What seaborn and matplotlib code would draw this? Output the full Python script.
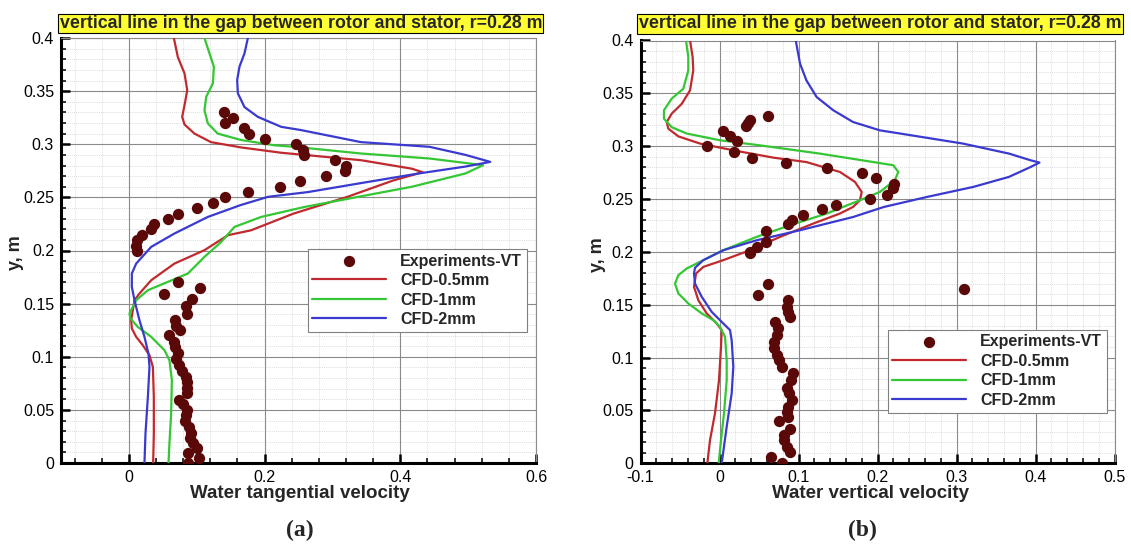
import numpy as np
import pandas as pd
import matplotlib
matplotlib.use("Agg")
import matplotlib.pyplot as plt
from matplotlib.ticker import MultipleLocator
import seaborn as sns

# ---------------- data: panel (a) tangential velocity ----------------
exp_a_x = [0.140, 0.154, 0.1415, 0.169, 0.177, 0.200, 0.2466, 0.257, 0.258, 0.3045, 0.320, 0.318,
           0.290, 0.2515, 0.223, 0.176, 0.1415, 0.124, 0.101, 0.0717, 0.0574, 0.0368, 0.0319, 0.0191,
           0.0122, 0.0098, 0.0118,
           0.0717, 0.0525, 0.1046, 0.0928, 0.0835, 0.0855, 0.0687, 0.0692, 0.075, 0.0594, 0.0658,
           0.0682, 0.0717, 0.0692, 0.0737, 0.0786, 0.0835, 0.085, 0.0855, 0.0855, 0.0746, 0.0796,
           0.0855, 0.0835, 0.083, 0.0884, 0.0923, 0.0908, 0.0948, 0.1007, 0.0874, 0.1036, 0.0878]
exp_a_y = [0.330, 0.3246, 0.320, 0.315, 0.310, 0.305, 0.3007, 0.2945, 0.290, 0.285, 0.2797, 0.2747,
           0.270, 0.2655, 0.2596, 0.2546, 0.250, 0.2445, 0.240, 0.2348, 0.2295, 0.2248, 0.2203, 0.2147,
           0.210, 0.2047, 0.1996,
           0.170, 0.1595, 0.1648, 0.1548, 0.1476, 0.140, 0.135, 0.129, 0.125, 0.1202, 0.114,
           0.109, 0.1036, 0.0983, 0.092, 0.0866, 0.081, 0.076, 0.071, 0.0659, 0.0597, 0.0553,
           0.0496, 0.0449, 0.0396, 0.0339, 0.0286, 0.0239, 0.0192, 0.0141, 0.0098, 0.0051, 0.0]

red_a_x = [0.0663, 0.0722, 0.082, 0.086, 0.083, 0.0786, 0.082, 0.0967, 0.121, 0.1655, 0.2245, 0.342,
           0.417, 0.433, 0.39, 0.322, 0.243, 0.180, 0.146, 0.1114, 0.0672, 0.0329, 0.0156, 0.0083,
           0.0034, 0.0044, 0.0108, 0.0206, 0.0304, 0.0354, 0.0368, 0.0368, 0.0358]
red_a_y = [0.400, 0.382, 0.3667, 0.351, 0.340, 0.3258, 0.3186, 0.310, 0.302, 0.297, 0.292, 0.285,
           0.277, 0.2737, 0.266, 0.2505, 0.2348, 0.219, 0.2144, 0.2003, 0.1877, 0.172, 0.1595, 0.1532,
           0.1344, 0.1266, 0.1187, 0.1108, 0.1014, 0.0904, 0.0621, 0.0277, 0.0]

green_a_x = [0.1114, 0.1188, 0.1253, 0.1238, 0.114, 0.1114, 0.1164, 0.131, 0.1655, 0.2146, 0.244, 0.342,
             0.443, 0.522, 0.496, 0.417, 0.338, 0.259, 0.195, 0.1556, 0.136, 0.1114, 0.087, 0.0575,
             0.028, 0.0108, 0.0009, 0.0024, 0.0133, 0.033, 0.0525, 0.0598, 0.0634, 0.0623, 0.0598, 0.0584]
green_a_y = [0.400, 0.3855, 0.373, 0.3573, 0.3446, 0.332, 0.3196, 0.310, 0.304, 0.299, 0.2976, 0.2913,
             0.2866, 0.2803, 0.2725, 0.260, 0.2505, 0.241, 0.2316, 0.2222, 0.208, 0.194, 0.1783, 0.1705,
             0.1626, 0.1532, 0.1407, 0.136, 0.128, 0.1187, 0.1061, 0.0967, 0.0779, 0.0465, 0.0183, 0.0]

blue_a_x = [0.1754, 0.1704, 0.163, 0.1596, 0.1606, 0.1704, 0.190, 0.2245, 0.254, 0.342, 0.443, 0.496,
            0.5326, 0.496, 0.427, 0.338, 0.264, 0.205, 0.1645, 0.1164, 0.0672, 0.0329, 0.0108, 0.0044,
            0.0044, 0.0083, 0.0156, 0.023, 0.0289, 0.0304, 0.028, 0.0245, 0.023]
blue_a_y = [0.400, 0.3855, 0.373, 0.3604, 0.348, 0.335, 0.3258, 0.3164, 0.3133, 0.302, 0.2976, 0.290,
            0.2834, 0.279, 0.2725, 0.263, 0.255, 0.2505, 0.2427, 0.2316, 0.216, 0.2034, 0.1877, 0.1783,
            0.1657, 0.1532, 0.1344, 0.1187, 0.103, 0.0904, 0.0621, 0.0277, 0.0]

# ---------------- data: panel (b) vertical velocity ----------------
exp_b_x = [0.061, 0.0386, 0.0365, 0.0335, 0.004, 0.0133, 0.0218, -0.0162, 0.0187, 0.0408, 0.0838,
           0.1357, 0.180, 0.198, 0.2213, 0.2192, 0.2116, 0.1905, 0.147, 0.1294, 0.106, 0.0914, 0.0871,
           0.0589, 0.0589, 0.047, 0.0386, 0.0386, 0.049, 0.061, 0.310,
           0.0863, 0.085, 0.0871, 0.0892, 0.0703, 0.0745, 0.0724, 0.069, 0.0694, 0.0724, 0.0753,
           0.0787, 0.0935, 0.0901, 0.085, 0.0884, 0.0914, 0.0871, 0.085, 0.0871, 0.0757, 0.0892,
           0.0816, 0.082, 0.085, 0.0892, 0.0648, 0.0787]
exp_b_y = [0.329, 0.3245, 0.322, 0.319, 0.3144, 0.3097, 0.305, 0.300, 0.2945, 0.289, 0.2845,
           0.2794, 0.275, 0.2697, 0.264, 0.260, 0.2543, 0.2498, 0.2448, 0.2404, 0.2347, 0.230, 0.226,
           0.2198, 0.2094, 0.2047, 0.199, 0.200, 0.159, 0.170, 0.165,
           0.1543, 0.148, 0.1433, 0.1386, 0.1338, 0.1276, 0.1213, 0.115, 0.1087, 0.1024, 0.0976,
           0.0913, 0.085, 0.0787, 0.0709, 0.0662, 0.0598, 0.0535, 0.0488, 0.044, 0.0403, 0.0321,
           0.0267, 0.022, 0.0157, 0.011, 0.0057, 0.0]

red_b_x = [-0.0373, -0.034, -0.0332, -0.0373, -0.0479, -0.0605, -0.0668, -0.0648, -0.0521, -0.0247,
           0.0175, 0.068, 0.110, 0.1525, 0.1715, 0.180, 0.1778, 0.169, 0.1525, 0.1187, 0.0766, 0.0386,
           0.0048, -0.0205, -0.0297, -0.0323, -0.0268, -0.0162, -0.0035, 0.0028, 0.0019, -0.0006,
           -0.0057, -0.012, -0.0154]
red_b_y = [0.400, 0.3843, 0.3717, 0.3528, 0.340, 0.3308, 0.3229, 0.3166, 0.3093, 0.3025,
           0.2961, 0.2892, 0.285, 0.2756, 0.2662, 0.2567, 0.2489, 0.2425, 0.2363, 0.2268, 0.2142, 0.2016,
           0.1922, 0.1858, 0.1796, 0.167, 0.1543, 0.1418, 0.1323, 0.126, 0.1102, 0.0787,
           0.0473, 0.022, 0.0]

green_b_x = [-0.0424, -0.0395, -0.0395, -0.0458, -0.0605, -0.0703, -0.0703, -0.0605, -0.0415, 0.0006,
             0.0513, 0.127, 0.1947, 0.22, 0.2263, 0.222, 0.203, 0.1778, 0.1357, 0.0892, 0.047, 0.0048,
             -0.0289, -0.0415, -0.0521, -0.0563, -0.0521, -0.0395, -0.0225, -0.0078, 0.0006, 0.007,
             0.0091, 0.0091, 0.0057, 0.0015, -0.001]
green_b_y = [0.400, 0.3843, 0.3717, 0.3544, 0.345, 0.334, 0.326, 0.318, 0.312, 0.3056,
             0.3008, 0.293, 0.285, 0.282, 0.2756, 0.2678, 0.2567, 0.2489, 0.2363, 0.2252, 0.2142, 0.2016,
             0.189, 0.1843, 0.178, 0.170, 0.1607, 0.1512, 0.1418, 0.1354, 0.1291, 0.1197,
             0.0976, 0.0787, 0.0473, 0.0189, 0.0]

blue_b_x = [0.0965, 0.102, 0.110, 0.123, 0.144, 0.169, 0.203, 0.2285, 0.308, 0.3665, 0.3937, 0.405,
            0.3937, 0.3665, 0.3214, 0.2627, 0.208, 0.169, 0.1019, 0.047, 0.0048, -0.0205, -0.031,
            -0.0323, -0.031, -0.0225, -0.0099, 0.0006, 0.0133, 0.0154, 0.0175, 0.0154, 0.0091, 0.0028]
blue_b_y = [0.400, 0.378, 0.3623, 0.3465, 0.334, 0.3229, 0.315, 0.312, 0.3025, 0.293, 0.2867, 0.2845,
            0.2803, 0.271, 0.2615, 0.252, 0.2425, 0.233, 0.2205, 0.211, 0.2016, 0.1922, 0.1850,
            0.1796, 0.170, 0.1575, 0.1433, 0.1354, 0.126, 0.1165, 0.0913, 0.0662, 0.0346, 0.0]

labels = ["Experiments-VT", "CFD-0.5mm", "CFD-1mm", "CFD-2mm"]
title_text = "vertical line in the gap between rotor and stator, r=0.28 m"

# ---------------- styling ----------------
sns.set_style("white")
plt.rcParams["font.family"] = ["Liberation Sans", "DejaVu Sans"]

C_EXP = "#5a0808"
C_RED = "#c02a2e"
C_GRN = "#34c634"
C_BLU = "#3a3ad0"

fig = plt.figure(figsize=(11.31, 5.51), dpi=100)
ax1 = fig.add_axes([61 / 1131, 1 - 463 / 551, 475 / 1131, 425 / 551])
ax2 = fig.add_axes([640.5 / 1131, 1 - 463.3 / 551, 474 / 1131, 422.8 / 551])


def draw(ax, ex, ey, curves):
    for (cx, cy, col, lab) in curves:
        sns.lineplot(x=cx, y=cy, sort=False, estimator=None, color=col, linewidth=1.6,
                     ax=ax, label=lab, zorder=3)
    sns.scatterplot(x=ex, y=ey, color=C_EXP, s=66, linewidth=0, ax=ax,
                    label=labels[0], zorder=4)


def style(ax, xlim, xmaj, xmin, legend_anchor):
    ax.set_xlim(*xlim)
    ax.set_ylim(0, 0.4)
    ax.xaxis.set_major_locator(MultipleLocator(xmaj))
    ax.xaxis.set_minor_locator(MultipleLocator(xmin))
    ax.yaxis.set_major_locator(MultipleLocator(0.05))
    ax.yaxis.set_minor_locator(MultipleLocator(0.01))
    ax.grid(True, which="major", color="#8a8a8a", linewidth=0.8, zorder=0)
    ax.grid(True, which="minor", color="#d2d2d2", linewidth=0.5, linestyle=(0, (1.5, 1.5)), zorder=0)
    ax.set_axisbelow(True)
    for s in ["left", "bottom"]:
        ax.spines[s].set_color("black")
        ax.spines[s].set_linewidth(2.2)
    for s in ["top", "right"]:
        ax.spines[s].set_color("#8a8a8a")
        ax.spines[s].set_linewidth(0.8)
    ax.tick_params(which="both", direction="in", left=True, bottom=True, top=False, right=False,
                   colors="black", labelsize=11.5)
    ax.tick_params(which="major", length=6.5, width=1.8, pad=5)
    ax.tick_params(which="minor", length=3.6, width=1.1)
    ax.set_xlabel("")
    ax.set_ylabel("")
    h, l = ax.get_legend_handles_labels()
    d = dict(zip(l, h))
    leg = ax.legend([d[k] for k in labels], labels, loc="upper right", bbox_to_anchor=legend_anchor,
                    frameon=True, fancybox=False, framealpha=1, edgecolor="#808080",
                    prop={"weight": "bold", "size": 11.5}, handlelength=4.6, handletextpad=0.9,
                    labelspacing=0.28, borderpad=0.3, scatterpoints=1, borderaxespad=0)
    leg.get_frame().set_linewidth(0.8)
    leg.set_zorder(10)


draw(ax1, exp_a_x, exp_a_y, [(red_a_x, red_a_y, C_RED, labels[1]),
                             (green_a_x, green_a_y, C_GRN, labels[2]),
                             (blue_a_x, blue_a_y, C_BLU, labels[3])])
draw(ax2, exp_b_x, exp_b_y, [(red_b_x, red_b_y, C_RED, labels[1]),
                             (green_b_x, green_b_y, C_GRN, labels[2]),
                             (blue_b_x, blue_b_y, C_BLU, labels[3])])

style(ax1, (-0.1, 0.6), 0.2, 0.04, (0.981, 0.504))
style(ax2, (-0.1, 0.5), 0.1, 0.02, (0.984, 0.3164))

for ax in (ax1, ax2):
    ax.yaxis.set_major_formatter(plt.FuncFormatter(lambda v, p: ("%g" % round(v, 3))))
    ax.xaxis.set_major_formatter(plt.FuncFormatter(lambda v, p: ("%g" % round(v, 3))))

# titles in yellow boxes
for xc, yc in [(300.8, 23.5), (880, 24)]:
    fig.text(xc / 1131, 1 - yc / 551, title_text, ha="center", va="center", fontsize=12.8,
             fontweight="bold",
             bbox=dict(boxstyle="square,pad=0.08", facecolor="#ffff33", edgecolor="black", linewidth=0.8))

# axis labels
fig.text(300 / 1131, 1 - 493 / 551, "Water tangential velocity", ha="center", va="center",
         fontsize=13.5, fontweight="bold")
fig.text(870 / 1131, 1 - 493 / 551, "Water vertical velocity", ha="center", va="center",
         fontsize=13.5, fontweight="bold")
fig.text(16 / 1131, 1 - 253 / 551, "y, m", ha="center", va="center", rotation=90,
         fontsize=13, fontweight="bold")
fig.text(598 / 1131, 1 - 255 / 551, "y, m", ha="center", va="center", rotation=90,
         fontsize=13, fontweight="bold")

# panel labels
for xc, letter in [(300, "a"), (862, "b")]:
    fig.text(xc / 1131, 1 - 530 / 551, "(" + letter + ")", ha="center", va="center",
             fontsize=17, fontweight="bold", family=["Liberation Serif", "DejaVu Serif"])

fig.savefig("out.png", dpi=100)
